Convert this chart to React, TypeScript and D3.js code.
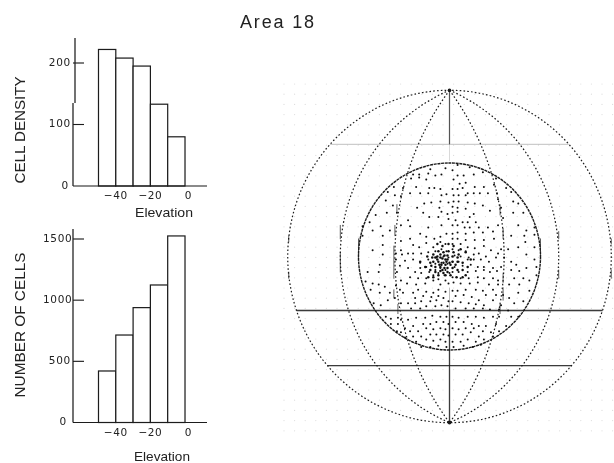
import React from "react";
import * as d3 from "d3";

const binEdges = [-50, -40, -30, -20, -10, 0];
const densityValues = [222, 208, 195, 133, 80];
const cellCounts = [421, 715, 939, 1124, 1525];
const densityTicks = [0, 100, 200];
const countTicks = [0, 500, 1000, 1500];
const elevationTicks = [-40, -20, 0];

const meridianRadii = [54, 108];
const outerRadius = 160;
const parallels = [
  { el: 108, opacity: 0.25, width: 1 },
  { el: -52, opacity: 0.85, width: 1.3 },
  { el: -105, opacity: 0.85, width: 1.3 },
];
const streaks: [number, number, number][] = [
  [-54, 30, 20], [-55, 10, -21], [53, 27, 17], [53, -16, -25],
  [-108, 30, 17], [-108, 4, -15], [108, 24, 17], [108, -13, -21],
  [-159, 20, 14], [-159, -15, -21], [160, 17, 12], [160, -13, -21],
  [-90, 17, -1], [90, 17, -1], [-55, -32, -40], [-51, -46, -55],
  [53, -30, -42], [50, -46, -55], [-52, 50, 42], [50, 50, 40],
];

const dotsUpperLeft: [number, number][] = [
  [-30,79],[-36,79],[-21,80],[-14,78],[-8,79],[-19,84],[-4,85],[-38,75],[-30,76],[-23,74],[-55,67],[-46,66],[-33,67],[-20,66],[-15,66],[-9,65],[-61,62],[-54,59],[-48,58],[-39,61],[-29,61],[-21,61],[-8,59],[-3,60],[-63,54],[-56,49],[-32,47],[-25,51],[-18,52],[-9,53],[-1,52],[-62,42],[-52,42],[-73,40],[-41,35],[-26,42],[-20,38],[-10,47],[-8,43],[-2,41],[-11,38],[-1,36],[-79,33],
];
const dotsUpperRight: [number, number][] = [
  [3,83],[8,88],[20,86],[33,81],[24,79],[14,78],[8,78],[4,74],[10,70],[16,71],[25,67],[34,67],[44,69],[46,75],[3,65],[8,65],[13,66],[18,61],[24,61],[30,61],[38,61],[47,61],[56,66],[61,62],[4,59],[9,59],[16,59],[4,53],[9,53],[18,52],[25,51],[33,49],[48,55],[63,53],[68,51],[51,47],[3,48],[8,47],[16,46],[40,44],[63,42],[73,42],[3,42],[8,43],[24,41],[53,37],[20,38],[13,33],[18,33],[26,33],[6,35],
];
const dotsMiddleLeft: [number, number][] = [
  [-86,29],[-76,25],[-68,29],[-59,25],[-48,30],[-39,29],[-21,28],[-8,30],[-86,20],[-66,20],[-48,15],[-39,17],[-29,22],[-23,19],[-15,17],[-9,19],[-3,22],[-76,6],[-66,11],[-48,6],[-36,11],[-30,9],[-23,13],[-16,9],[-9,14],[-4,12],[-66,2],[-53,3],[-47,2],[-41,3],[-36,3],[-28,3],[-21,4],[-14,5],[-8,7],[-3,5],[-53,-3],[-44,-4],[-36,-3],[-29,-6],[-21,-3],[-13,-1],[-6,0],[-1,-1],[-69,-8],[-49,-9],[-41,-11],[-29,-11],[-23,-10],[-14,-7],[-8,-6],[-2,-7],[-81,-15],[-70,-15],[-52,-15],[-34,-15],[-28,-16],[-20,-15],[-14,-13],[-9,-11],[-4,-13],[-39,-20],[-31,-21],[-23,-21],[-16,-18],[-11,-16],[-5,-18],[0,-16],[-83,-24],[-76,-26],[-70,-27],[-64,-29],[-53,-28],[-48,-23],[-42,-26],[-33,-27],[-24,-26],[-16,-23],[-11,-22],[-4,-23],[-1,-26],[-9,-27],
];
const dotsMiddleRight: [number, number][] = [
  [3,30],[8,30],[15,28],[20,28],[29,28],[38,28],[48,30],[68,30],[76,25],[84,28],[3,22],[8,23],[16,22],[24,23],[33,23],[43,24],[61,20],[74,20],[84,21],[3,17],[8,17],[16,16],[25,16],[34,16],[44,17],[75,14],[3,12],[11,12],[18,9],[25,8],[34,10],[41,6],[51,7],[58,7],[68,9],[84,9],[3,7],[9,6],[16,5],[48,3],[54,-1],[29,3],[36,0],[24,2],[19,-1],[11,0],[5,1],[3,-5],[9,-5],[18,-3],[24,-3],[31,-3],[39,-5],[46,-1],[61,-5],[76,2],[84,-3],[5,-10],[13,-9],[21,-8],[28,-10],[34,-10],[43,-11],[51,-10],[66,-8],[76,-11],[86,-10],[3,-15],[9,-15],[18,-15],[26,-14],[34,-13],[40,-15],[47,-14],[61,-13],[69,-14],[3,-20],[11,-21],[19,-21],[28,-20],[34,-21],[43,-21],[48,-23],[64,-21],[73,-21],[79,-23],[86,-18],[4,-25],[11,-26],[20,-26],[28,-25],[39,-27],[48,-27],[59,-27],[69,-27],
];
const dotsCluster: [number, number][] = [
  [-6,-6],[-11,-5],[-16,-5],[-19,-6],[-14,-10],[-9,-10],[-2,-3],[3,-5],[8,-5],[13,-6],[-6,4],[-11,5],[-1,5],[4,4],[-16,2],[9,2],[-7,10],[-1,12],[-12,12],[4,10],[11,7],[16,4],[-19,-13],[-14,-15],[-7,-13],[-2,-11],[3,-11],[8,-13],[13,-13],[18,-10],[-11,-18],[-4,-18],[1,-18],[7,-20],[13,-20],[-16,-20],[-22,0],[-24,-10],[-29,-5],[21,-3],[16,-18],[-9,-1],[-2,1],[3,0],[8,-1],[-4,-8],[1,-8],[-17,-1],[-12,0],[6,-8],[-21,-20],[-8,-8],[-4,-3],[-7,-2],[-3,-5],[-10,-8],[-12,-3],[0,-6],[-5,1],[-9,2],[-5,-11],[-6,-16],[-9,-14],[-2,-15],[-14,-1],[-18,-9],
];
const dotsLowerLeft: [number, number][] = [
  [-78,-32],[-69,-35],[-59,-35],[-49,-32],[-46,-35],[-61,-42],[-54,-40],[-36,-35],[-31,-32],[-23,-34],[-16,-35],[-11,-32],[-4,-34],[-75,-45],[-68,-47],[-48,-45],[-41,-45],[-34,-45],[-28,-43],[-19,-43],[-13,-42],[-6,-40],[-1,-43],[-34,-40],[-26,-38],[-18,-39],[-11,-38],[-38,-50],[-29,-50],[-23,-48],[-14,-48],[-8,-47],[-2,-48],[-63,-58],[-58,-60],[-51,-59],[-48,-61],[-41,-61],[-33,-59],[-24,-59],[-17,-57],[-9,-58],[-3,-58],[-58,-65],[-51,-65],[-44,-69],[-36,-67],[-26,-65],[-19,-65],[-13,-63],[-6,-63],[-1,-65],[-52,-72],[-48,-73],[-39,-72],[-31,-72],[-23,-69],[-16,-70],[-9,-69],[-4,-70],[-44,-78],[-36,-77],[-28,-77],[-19,-75],[-13,-75],[-6,-75],[-1,-76],[-33,-82],[-23,-80],[-16,-81],[-9,-80],[-4,-82],[-28,-87],[-19,-87],[-11,-86],[-3,-87],
];
const dotsLowerRight: [number, number][] = [
  [3,-33],[8,-33],[16,-32],[26,-32],[33,-33],[43,-32],[53,-37],[6,-38],[14,-37],[22,-39],[29,-42],[36,-37],[46,-37],[59,-40],[68,-35],[79,-33],[3,-43],[11,-44],[19,-45],[26,-46],[34,-47],[43,-42],[51,-47],[64,-45],[73,-43],[6,-50],[16,-50],[24,-50],[33,-50],[40,-51],[49,-51],[58,-52],[3,-58],[9,-59],[18,-58],[26,-58],[34,-59],[43,-58],[49,-58],[61,-58],[68,-58],[6,-63],[14,-63],[22,-65],[29,-67],[36,-67],[46,-65],[56,-67],[3,-69],[9,-70],[16,-69],[24,-69],[33,-72],[41,-73],[49,-72],[6,-75],[13,-75],[21,-73],[29,-77],[43,-77],[3,-82],[11,-82],[18,-80],[26,-82],[34,-80],[4,-87],[14,-86],[23,-87],[31,-85],
];
const sparseDots = [...dotsUpperLeft, ...dotsUpperRight, ...dotsMiddleLeft, ...dotsMiddleRight, ...dotsLowerLeft, ...dotsLowerRight];

const ink = "#1a1a1a";
const sans = "'Liberation Sans', Arial, sans-serif";
const wide = "'DejaVu Sans', sans-serif";

const histX = d3.scaleLinear().domain([-50, 0]).range([98.5, 185]);
const densityY = d3.scaleLinear().domain([0, 200]).range([186, 63]);
const countY = d3.scaleLinear().domain([0, 1500]).range([422.5, 239]);
const fieldX = d3.scaleLinear().domain([-90, 90]).range([358.5, 540.5]);
const fieldY = d3.scaleLinear().domain([-90, 90]).range([350, 163]);

const gridX = d3.range(284, 614, 10.6);
const gridY = d3.range(84, 432, 10.2);

function Hist({ values, y, ticks, tickEnds, labelY, axisTop, label, labelCenter, labelLen, elevY, elevX, elevLen }: any) {
  const base = y(0);
  return (
    <g>
      <g fill="#fff" stroke={ink} strokeWidth={1.2}>
        {values.map((v: number, i: number) => (
          <rect key={i} x={histX(binEdges[i])} y={y(v)} width={histX(binEdges[i + 1]) - histX(binEdges[i])} height={base - y(v)} />
        ))}
      </g>
      <line x1={73} x2={207} y1={base} y2={base} stroke={ink} strokeWidth={1.2} />
      {axisTop}
      {ticks.map((t: number, i: number) => (
        <g key={t}>
          {t !== 0 && <line x1={73} x2={84} y1={y(t)} y2={y(t)} stroke={ink} strokeWidth={1.1} />}
          <text x={tickEnds[i]} y={y(t) + 2.5} textAnchor="end" fontFamily={wide} fontSize={10.5} letterSpacing={0.7} fill="#222">{t}</text>
        </g>
      ))}
      {elevationTicks.map((t) => (
        <text key={t} x={histX(t) + (t === 0 ? 3 : 0)} y={labelY} textAnchor="middle" fontFamily={wide} fontSize={10.5} letterSpacing={t === 0 ? 0 : 0.6} fill="#222">
          {t < 0 ? `\u2212${Math.abs(t)}` : t}
        </text>
      ))}
      <text x={elevX} y={elevY} fontFamily={sans} fontSize={13.5} textLength={elevLen} lengthAdjust="spacingAndGlyphs" fill="#222">Elevation</text>
      <text transform={`translate(25,${labelCenter}) rotate(-90)`} textAnchor="middle" fontFamily={sans} fontSize={14.5} textLength={labelLen} lengthAdjust="spacingAndGlyphs" fill="#222">{label}</text>
    </g>
  );
}

export default function App() {
  const cx = fieldX(0);
  const cy = fieldY(0);
  const rx = (r: number) => fieldX(r) - cx;
  const ry = (r: number) => fieldY(-r) - cy;
  const poleTop = fieldY(outerRadius);
  const poleBottom = fieldY(-outerRadius);
  const meridianPath = (r: number, sign: number) => {
    const h = ry(outerRadius);
    const w = rx(r);
    const R = (h * h + w * w) / (2 * w);
    return `M${cx},${poleTop}A${R},${R} 0 0 ${sign > 0 ? 1 : 0} ${cx},${poleBottom}`;
  };
  return (
    <svg width={614} height={463} viewBox="0 0 614 463" style={{ position: "absolute", left: 0, top: 0, background: "#fff" }}>
      <defs>
        <filter id="soft" x="-2%" y="-2%" width="104%" height="104%">
          <feGaussianBlur stdDeviation="0.38" />
        </filter>
      </defs>
      <g filter="url(#soft)">
        <text x={240} y={28} fontFamily={sans} fontSize={18} textLength={74} lengthAdjust="spacing" fill="#222">Area 18</text>

        <Hist values={densityValues} y={densityY} ticks={densityTicks} tickEnds={[69, 71, 71]} labelY={199}
          axisTop={<g stroke={ink} strokeWidth={1.2}><line x1={75} x2={75} y1={38} y2={103} /><line x1={73} x2={73} y1={103} y2={186} /></g>}
          label="CELL DENSITY" labelCenter={130} labelLen={107} elevX={135} elevY={217} elevLen={58} />
        <Hist values={cellCounts} y={countY} ticks={countTicks} tickEnds={[67, 71, 72.5, 72.5]} labelY={436}
          axisTop={<line x1={73} x2={73} y1={229} y2={422.5} stroke={ink} strokeWidth={1.2} />}
          label="NUMBER OF CELLS" labelCenter={325} labelLen={145} elevX={134} elevY={461} elevLen={56} />

        <g fill="#dcdcdc">
          {gridX.flatMap((x) => gridY.map((y) => <circle key={`${x}-${y}`} cx={x} cy={y} r={0.6} />))}
        </g>

        <g fill="none" stroke={ink}>
          <ellipse cx={cx} cy={cy} rx={rx(outerRadius)} ry={ry(outerRadius)} strokeWidth={1.2} strokeDasharray="1.6 2.2" />
          {meridianRadii.flatMap((r) => [1, -1].map((s) => (
            <path key={`${r}${s}`} d={meridianPath(r, s)} strokeWidth={1.2} strokeDasharray="1.6 2.2" />
          )))}
          <ellipse cx={cx} cy={cy} rx={rx(90)} ry={ry(90)} strokeWidth={1.4} strokeDasharray="3 0.7" />
        </g>

        <g stroke={ink} strokeLinecap="round">
          {streaks.map(([az, a, b], i) => (
            <line key={i} x1={fieldX(az)} x2={fieldX(az)} y1={fieldY(a)} y2={fieldY(b)} strokeWidth={1} opacity={0.7} />
          ))}
        </g>

        {parallels.map((p) => {
          const half = Math.sqrt(outerRadius * outerRadius - p.el * p.el);
          return <line key={p.el} x1={fieldX(-half)} x2={fieldX(half)} y1={fieldY(p.el)} y2={fieldY(p.el)} stroke={ink} strokeWidth={p.width} opacity={p.opacity} />;
        })}
        <line x1={cx} x2={cx} y1={poleTop} y2={fieldY(108)} stroke={ink} strokeWidth={1.2} opacity={0.75} />
        <line x1={cx} x2={cx} y1={fieldY(108)} y2={fieldY(92)} stroke={ink} strokeWidth={1} opacity={0.15} />
        <line x1={cx} x2={cx} y1={fieldY(-30)} y2={fieldY(-52)} stroke={ink} strokeWidth={1} opacity={0.3} />
        <line x1={cx} x2={cx} y1={fieldY(-52)} y2={poleBottom} stroke={ink} strokeWidth={1.3} opacity={0.85} />
        <circle cx={cx} cy={poleTop} r={1.8} fill={ink} />
        <circle cx={cx} cy={poleBottom} r={1.8} fill={ink} />

        <g fill="#111">
          {sparseDots.map(([az, el], i) => (
            <circle key={i} cx={fieldX(az)} cy={fieldY(el)} r={1} />
          ))}
          {dotsCluster.map(([az, el], i) => (
            <circle key={i} cx={fieldX(az)} cy={fieldY(el)} r={1.25} />
          ))}
        </g>
      </g>
    </svg>
  );
}
